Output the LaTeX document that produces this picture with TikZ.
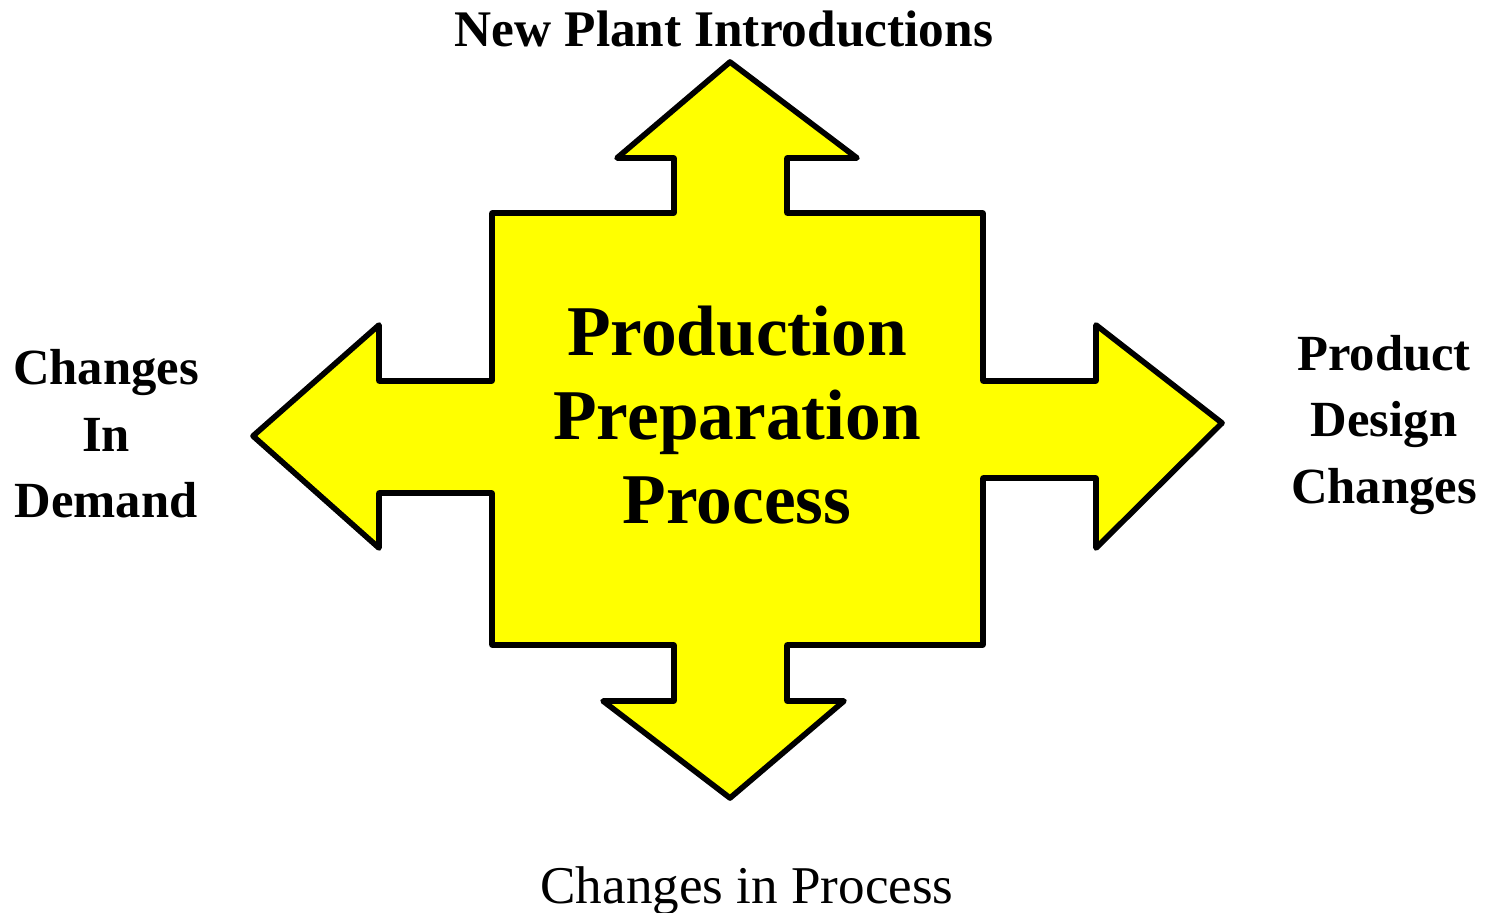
\documentclass[tikz,border=0pt]{standalone}
\usepackage{fontspec}
\setmainfont{Liberation Serif}
\usepackage{tikz}

\definecolor{crossyellow}{RGB}{255,255,0}

\tikzset{
  side label/.style={font=\bfseries\fontsize{14.4}{18.9}\selectfont, align=center, inner sep=0pt},
  cross/.style={draw=black, fill=crossyellow, line width=1.6pt, line join=round}
}

\begin{document}
\begin{tikzpicture}[x=0.01cm, y=-0.01cm]
  \useasboundingbox (0,0) rectangle (1489,913);

  % yellow cross, clockwise from the top tip
  \draw[cross] (730,62) -- (857,158) -- (787,158) -- (787,213)
    -- (983,213) -- (983,381) -- (1096,381) -- (1096,325) -- (1222,423)
    -- (1096,548) -- (1096,478) -- (983,478) -- (983,645)
    -- (787,645) -- (787,701) -- (844,701) -- (730,798) -- (603,701)
    -- (674,701) -- (674,645) -- (492,645) -- (492,493) -- (379,493)
    -- (379,548) -- (253,436) -- (379,325) -- (379,381) -- (492,381)
    -- (492,213) -- (674,213) -- (674,158) -- (617,158) -- cycle;

  \node (prep) [font=\bfseries\fontsize{20.3}{23.9}\selectfont, align=center, inner sep=0pt]
    at (737,415) {Production\\Preparation\\Process};

  \node (intro) [side label, font=\bfseries\fontsize{14.6}{18.9}\selectfont, anchor=base]
    at (724,47) {New Plant Introductions};
  \node (demand) [side label] at (106,434) {Changes\\In\\Demand};
  \node (design) [side label] at (1384,425) {Product\\Design\\Changes};
  \node (process) [font=\fontsize{15.1}{18}\selectfont, anchor=base, inner sep=0pt]
    at (747,903) {Changes in Process};
\end{tikzpicture}
\end{document}
